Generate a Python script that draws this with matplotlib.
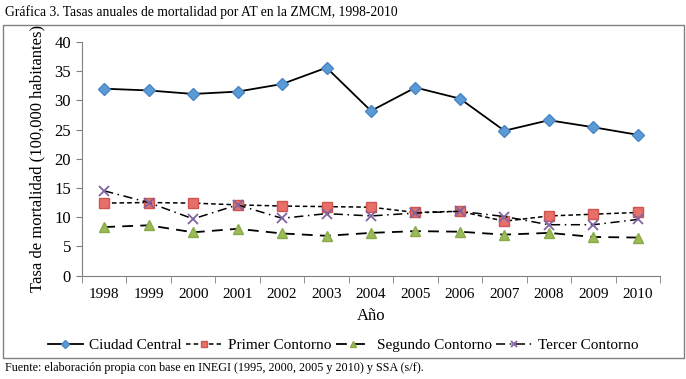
import matplotlib.pyplot as plt
from matplotlib.patches import Rectangle

# ─── datos ───
years = ["1998", "1999", "2000", "2001", "2002", "2003", "2004",
         "2005", "2006", "2007", "2008", "2009", "2010"]
ciudad_central = [32.0, 31.7, 31.1, 31.5, 32.8, 35.6, 28.2, 32.2, 30.3, 24.8, 26.6, 25.4, 24.1]
primer_contorno = [12.4, 12.5, 12.4, 12.1, 11.9, 11.8, 11.7, 10.8, 11.0, 9.3, 10.2, 10.5, 10.8]
segundo_contorno = [8.3, 8.6, 7.4, 8.0, 7.2, 6.8, 7.3, 7.6, 7.5, 7.0, 7.3, 6.6, 6.5]
tercer_contorno = [14.5, 12.5, 9.7, 12.1, 9.8, 10.6, 10.2, 10.7, 11.0, 10.1, 8.7, 8.7, 9.6]

plt.rcParams["font.family"] = ["Liberation Serif", "DejaVu Serif"]

fig = plt.figure(figsize=(6.86, 3.79), dpi=100)
ax = fig.add_axes([82 / 686, 1 - 275.5 / 379, (660 - 82) / 686, (275.5 - 42) / 379])

x = list(range(len(years)))
ax.plot(x, ciudad_central, color="black", lw=1.3, marker="D", ms=6,
        mfc="#5B9BD5", mec="#4A86C5", label="Ciudad Central")
ax.plot(x, primer_contorno, color="black", lw=1.1, ls=(0, (3, 2)), marker="s", ms=7,
        mfc="#E8706A", mec="#D05550", label="Primer Contorno")
ax.plot(x, segundo_contorno, color="black", lw=1.3, ls=(0, (6, 4)), marker="^", ms=7,
        mfc="#9BBB59", mec="#8AAA48", label="Segundo Contorno")
ax.plot(x, tercer_contorno, color="black", lw=1.1, ls=(0, (6, 3, 1, 3)), marker="x", ms=7,
        mew=1.3, mec="#8064A2", label="Tercer Contorno")

ax.set_xlim(-0.5, len(years) - 0.5)
ax.set_ylim(0, 40)
ax.set_yticks(range(0, 45, 5))
ax.set_xticks(x)
ax.set_xticklabels(years)
ax.set_xticks([i - 0.5 for i in range(len(years) + 1)], minor=True)
ax.tick_params(axis="x", which="major", length=0, labelsize=11, pad=9)
ax.tick_params(axis="x", which="minor", length=5, color="#808080", direction="out")
ax.tick_params(axis="y", length=4, color="#808080", labelsize=12, pad=4)
for s in ["top", "right"]:
    ax.spines[s].set_visible(False)
for s in ["left", "bottom"]:
    ax.spines[s].set_color("#808080")

ax.set_xlabel("Año", fontsize=12, labelpad=5)
ax.set_ylabel("Tasa de mortalidad (100,000 habitantes)", fontsize=12, labelpad=6)

fig.legend(loc="center", bbox_to_anchor=(0.5, 1 - 345 / 379), ncol=4, frameon=False,
           fontsize=11, handlelength=2.3, handletextpad=0.4, columnspacing=0.3,
           markerscale=0.7)

# marco exterior
fig.patches.append(Rectangle((3 / 686, 1 - 358 / 379), 681 / 686, 333 / 379,
                             transform=fig.transFigure, fill=False,
                             edgecolor="#808080", lw=1))

fig.text(5 / 686, 1 - 12 / 379, "Gráfica 3. Tasas anuales de mortalidad por AT en la ZMCM, 1998-2010",
         fontsize=9.8, va="center", ha="left")
fig.text(5 / 686, 1 - 368 / 379,
         "Fuente: elaboración propia con base en INEGI (1995, 2000, 2005 y 2010) y SSA (s/f).",
         fontsize=8.7, va="center", ha="left")

fig.savefig("out.png", dpi=100)
